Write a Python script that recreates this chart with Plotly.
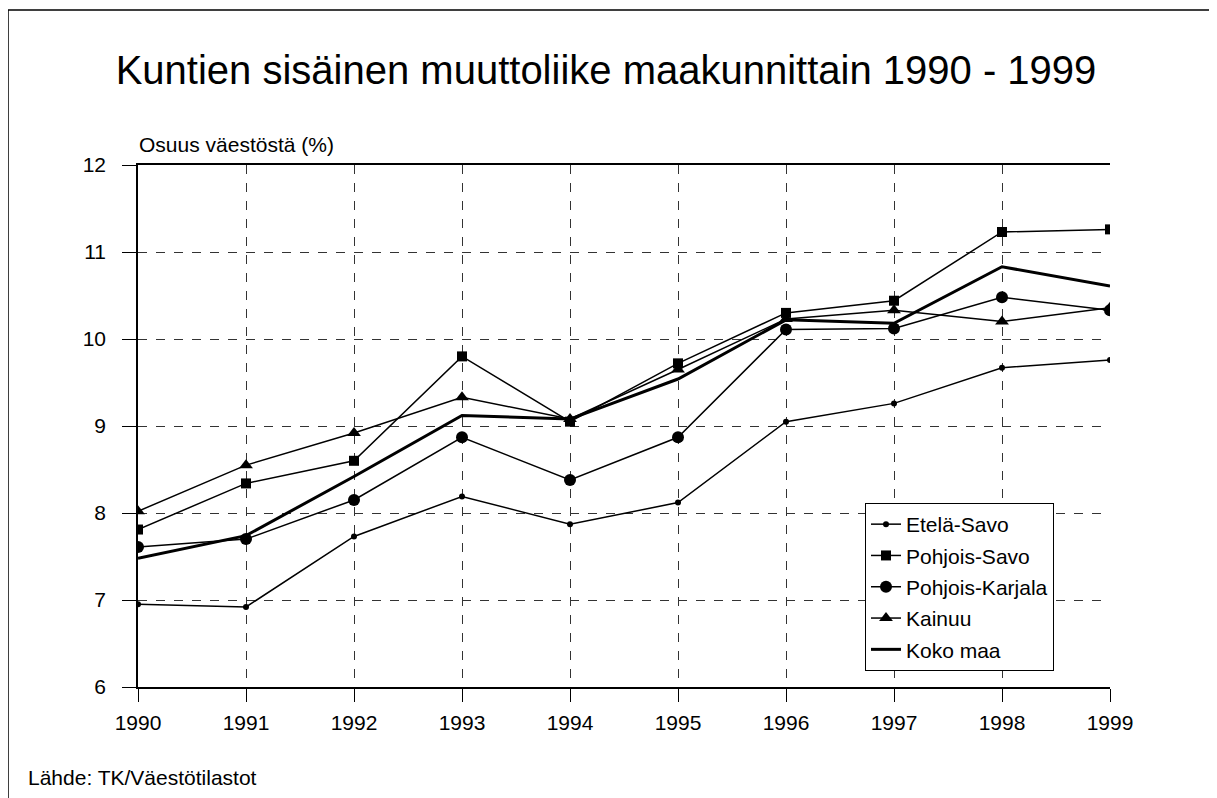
import plotly.graph_objects as go

years = [1990, 1991, 1992, 1993, 1994, 1995, 1996, 1997, 1998, 1999]
etela_savo = [6.95, 6.92, 7.73, 8.19, 7.87, 8.12, 9.05, 9.26, 9.67, 9.76]
pohjois_savo = [7.81, 8.34, 8.60, 9.80, 9.05, 9.72, 10.30, 10.44, 11.23, 11.26]
pohjois_karjala = [7.61, 7.70, 8.15, 8.87, 8.38, 8.87, 10.11, 10.12, 10.48, 10.33]
kainuu = [8.02, 8.55, 8.92, 9.33, 9.08, 9.65, 10.23, 10.33, 10.20, 10.36]
koko_maa = [7.48, 7.74, 8.42, 9.12, 9.08, 9.54, 10.22, 10.18, 10.83, 10.61]

FONT = "Arial, 'Liberation Sans', sans-serif"
OFF = 8  # default body margin of the page
W, H = 1209, 790
L, R, T, B = 130, 107, 157, 111
pw, ph = W - L - R, H - T - B

def px_to_paper_x(px):
    return (px - OFF - L) / pw

def px_to_paper_y(py):
    return (H - B - (py - OFF)) / ph

fig = go.Figure()
series = [
    ("Etelä-Savo", etela_savo, dict(symbol="circle", size=6), 1.5),
    ("Pohjois-Savo", pohjois_savo, dict(symbol="square", size=10), 1.5),
    ("Pohjois-Karjala", pohjois_karjala, dict(symbol="circle", size=12), 1.5),
    ("Kainuu", kainuu, dict(symbol="triangle-up", size=12), 1.5),
]
for name, vals, mk, lw in series:
    fig.add_trace(go.Scatter(
        x=years, y=vals, name=name, mode="lines+markers",
        line=dict(color="black", width=lw),
        marker=dict(color="black", **mk),
        legendgroup=name,
    ))
fig.add_trace(go.Scatter(
    x=years, y=koko_maa, name="Koko maa", mode="lines",
    line=dict(color="black", width=3), legendgroup="Koko maa",
))

fig.update_layout(
    width=W, height=H,
    margin=dict(l=L, r=R, t=T, b=B),
    paper_bgcolor="white", plot_bgcolor="white",
    font=dict(family=FONT, color="black", size=21),
    title=dict(text="Kuntien sisäinen muuttoliike maakunnittain 1990 - 1999",
               x=(606 - OFF) / W, xanchor="center", y=1 - (70 - OFF) / H, yanchor="middle",
               font=dict(size=40, family=FONT, color="black")),
    showlegend=True,
    legend=dict(x=px_to_paper_x(865), y=px_to_paper_y(503), xanchor="left", yanchor="top",
                bgcolor="white", bordercolor="black", borderwidth=1,
                font=dict(size=21, family=FONT, color="black"),
                tracegroupgap=1, itemwidth=30),
    xaxis=dict(range=[1990, 1999], tickmode="array", tickvals=years,
               ticktext=[str(y) for y in years],
               showgrid=True, gridcolor="#333", griddash="dash", gridwidth=1,
               showline=True, linecolor="black", linewidth=1.5, mirror=True,
               ticks="outside", ticklen=13, tickcolor="black",
               ticklabelstandoff=3, zeroline=False,
               tickfont=dict(size=21, family=FONT, color="black")),
    yaxis=dict(range=[6, 12], tickmode="array", tickvals=[6, 7, 8, 9, 10, 11, 12],
               showgrid=True, gridcolor="#333", griddash="dash", gridwidth=1,
               showline=True, linecolor="black", linewidth=1.5,
               ticks="outside", ticklen=14, tickcolor="black",
               ticklabelstandoff=12, zeroline=False,
               tickfont=dict(size=21, family=FONT, color="black")),
    annotations=[
        dict(text="Osuus väestöstä (%)", xref="paper", yref="paper",
             x=px_to_paper_x(137), y=px_to_paper_y(145), xanchor="left", yanchor="middle",
             showarrow=False, font=dict(size=21, family=FONT, color="black")),
        dict(text="Lähde: TK/Väestötilastot", xref="paper", yref="paper",
             x=px_to_paper_x(26), y=px_to_paper_y(777), xanchor="left", yanchor="middle",
             showarrow=False, font=dict(size=21, family=FONT, color="black")),
    ],
    shapes=[
        dict(type="rect", xref="paper", yref="paper",
             x0=px_to_paper_x(8), x1=px_to_paper_x(1215),
             y0=px_to_paper_y(810), y1=px_to_paper_y(10),
             line=dict(color="black", width=1.5), layer="below"),
    ],
)

fig.write_html("out.html")
